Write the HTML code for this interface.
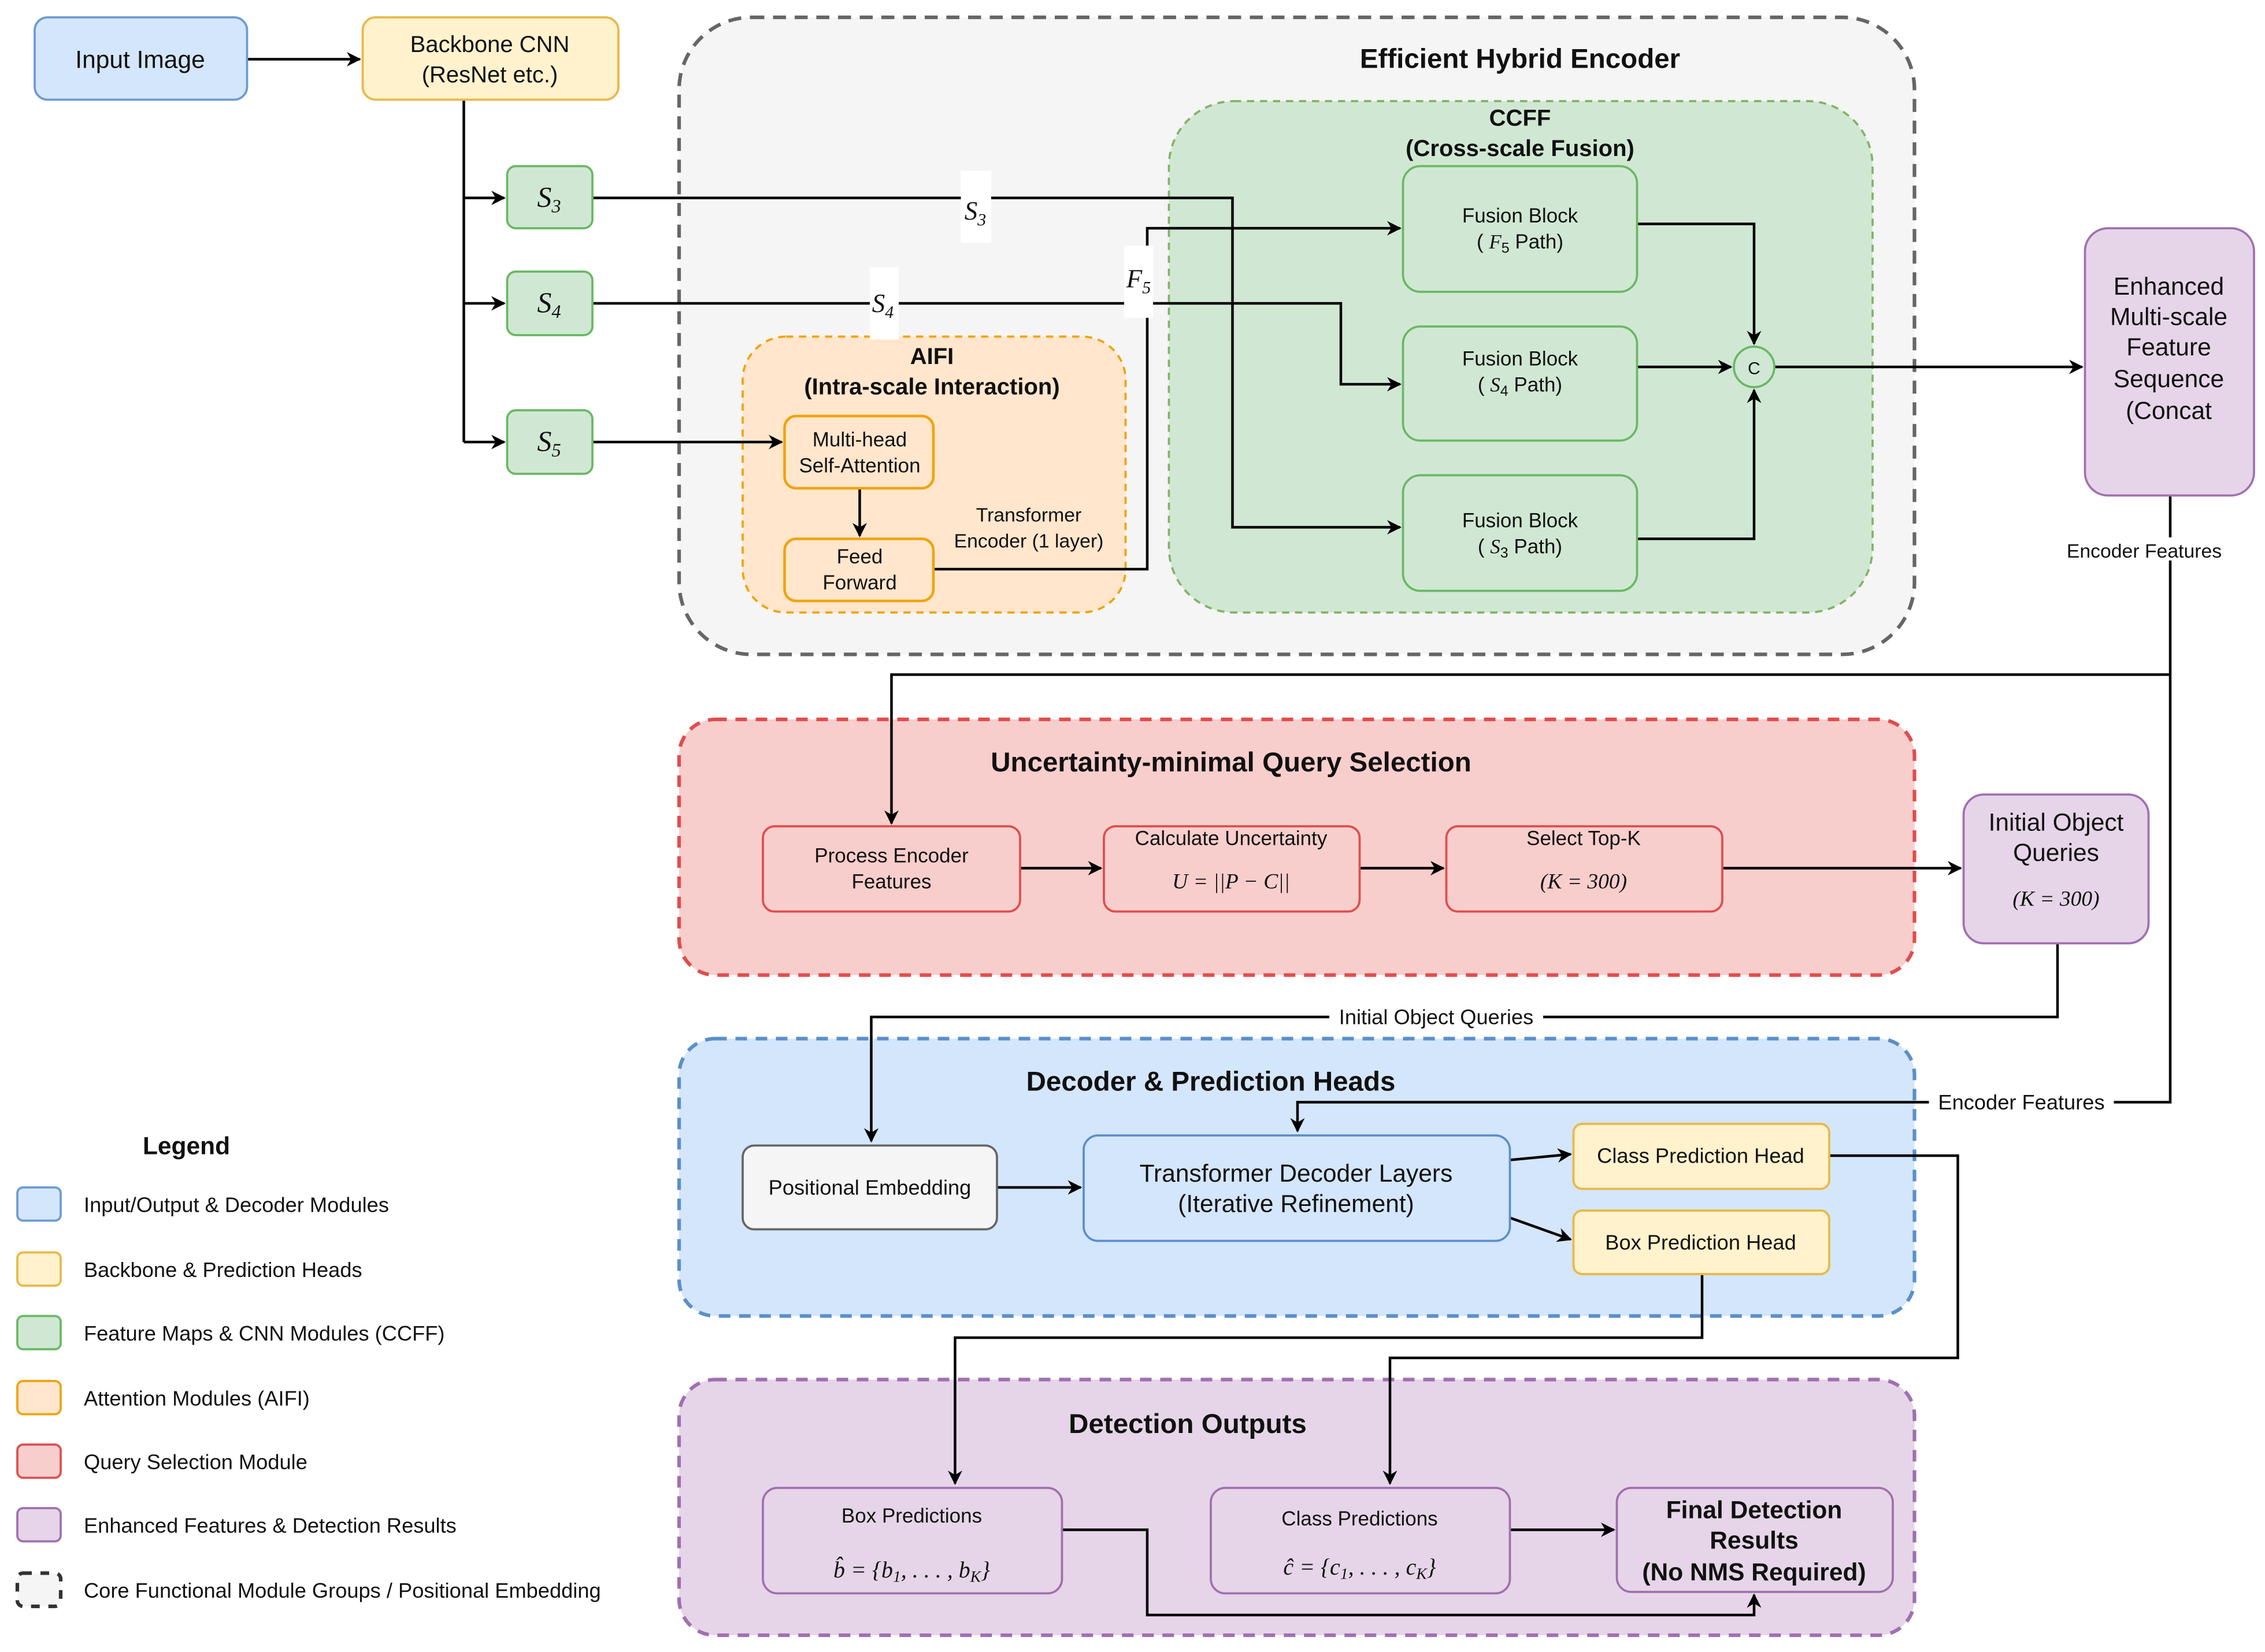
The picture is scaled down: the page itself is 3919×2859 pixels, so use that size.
<!DOCTYPE html>
<html><head><meta charset="utf-8"><style>
html,body{margin:0;padding:0;background:#fff;}
svg{display:block;}
text{font-family:"Liberation Sans",sans-serif;fill:#111;}
.m{font-family:"Liberation Serif",serif;font-style:italic;}
.b{font-weight:bold;}
</style></head><body>
<svg width="3919" height="2859" viewBox="0 0 1567.6 1143.6" xmlns="http://www.w3.org/2000/svg">
<defs>
<marker id="a" markerWidth="10" markerHeight="10" refX="9" refY="5" orient="auto" markerUnits="userSpaceOnUse"><path d="M0,0 L10,5 L0,10 L3,5 z" fill="#000"/></marker>
</defs>
<rect x="470" y="12" width="855" height="441" rx="50" fill="#f5f5f5" stroke="#666" stroke-width="2.5" stroke-dasharray="9,6"/>
<rect x="809" y="70" width="487" height="354" rx="45" fill="#d0e8d3" stroke="#82b366" stroke-width="1.5" stroke-dasharray="5,4"/>
<rect x="514" y="233" width="265" height="191" rx="30" fill="#ffe6cc" stroke="#f0a30a" stroke-width="1.5" stroke-dasharray="5,4"/>
<rect x="470" y="498" width="855" height="177" rx="25" fill="#f8cecc" stroke="#e04d4d" stroke-width="2.5" stroke-dasharray="8,6"/>
<rect x="470" y="719" width="855" height="192" rx="25" fill="#d4e6fb" stroke="#5b8fc9" stroke-width="2.5" stroke-dasharray="8,6"/>
<rect x="470" y="955" width="855" height="177" rx="25" fill="#e6d5e8" stroke="#a070b0" stroke-width="2.5" stroke-dasharray="8,6"/>
<text x="1052" y="47" font-size="19" class="b" text-anchor="middle">Efficient Hybrid Encoder</text>
<text x="1052" y="87" font-size="16" class="b" text-anchor="middle">CCFF</text>
<text x="1052" y="108" font-size="16" class="b" text-anchor="middle">(Cross-scale Fusion)</text>
<text x="645" y="252" font-size="16" class="b" text-anchor="middle">AIFI</text>
<text x="645" y="273" font-size="16" class="b" text-anchor="middle">(Intra-scale Interaction)</text>
<text x="852" y="534" font-size="19" class="b" text-anchor="middle">Uncertainty-minimal Query Selection</text>
<text x="838" y="755" font-size="19" class="b" text-anchor="middle">Decoder &amp; Prediction Heads</text>
<text x="822" y="992" font-size="19" class="b" text-anchor="middle">Detection Outputs</text>

<g fill="none" stroke="#000" stroke-width="1.8">
<path d="M171,41 H249" marker-end="url(#a)"/>
<path d="M321,69 V306"/>
<path d="M321,137 H349" marker-end="url(#a)"/>
<path d="M321,210 H349" marker-end="url(#a)"/>
<path d="M321,306 H349" marker-end="url(#a)"/>
<path d="M410,137 H853 V365 H969" marker-end="url(#a)"/>
<path d="M410,210 H928 V266 H969" marker-end="url(#a)"/>
<path d="M410,306 H541" marker-end="url(#a)"/>
<path d="M595,338 V371" marker-end="url(#a)"/>
<path d="M646,394 H794 V158 H969" marker-end="url(#a)"/>
<path d="M1133,155 H1214 V238" marker-end="url(#a)"/>
<path d="M1133,254 H1198" marker-end="url(#a)"/>
<path d="M1133,373 H1214 V270" marker-end="url(#a)"/>
<path d="M1228,254 H1441" marker-end="url(#a)"/>
<path d="M1502,343 V763 H898 V783" marker-end="url(#a)"/>
<path d="M1502,467 H617 V570" marker-end="url(#a)"/>
<path d="M706,601 H762" marker-end="url(#a)"/>
<path d="M941,601 H999" marker-end="url(#a)"/>
<path d="M1192,601 H1357" marker-end="url(#a)"/>
<path d="M1424,653 V704 H603 V790" marker-end="url(#a)"/>
<path d="M690,822 H748" marker-end="url(#a)"/>
<path d="M1045,803 L1087,799" marker-end="url(#a)"/>
<path d="M1045,843 L1087,858" marker-end="url(#a)"/>
<path d="M1266,800 H1355 V940 H962 V1027" marker-end="url(#a)"/>
<path d="M1178,882 V926 H661 V1027" marker-end="url(#a)"/>
<path d="M1045,1059 H1117" marker-end="url(#a)"/>
<path d="M735,1059 H794 V1118 H1214 V1104" marker-end="url(#a)"/>
</g>
<rect x="665" y="118" width="21" height="50" fill="#fff"/>
<text x="675" y="152" font-size="18" class="m" text-anchor="middle">S<tspan font-size="12" dy="4">3</tspan></text>
<rect x="602" y="185" width="20" height="50" fill="#fff"/>
<text x="611" y="216" font-size="18" class="m" text-anchor="middle">S<tspan font-size="12" dy="4">4</tspan></text>
<rect x="778" y="170" width="20" height="50" fill="#fff"/>
<text x="788" y="199" font-size="18" class="m" text-anchor="middle">F<tspan font-size="12" dy="4">5</tspan></text>
<rect x="1428" y="372" width="112" height="16" fill="#fff"/>
<text x="1484" y="386" font-size="13.5" text-anchor="middle">Encoder Features</text>
<rect x="920" y="696" width="148" height="16" fill="#fff"/>
<text x="994" y="709" font-size="14.5" text-anchor="middle">Initial Object Queries</text>
<rect x="1335" y="755" width="128" height="16" fill="#fff"/>
<text x="1399" y="768" font-size="14.5" text-anchor="middle">Encoder Features</text>
<text x="712" y="361" font-size="13.5" text-anchor="middle">Transformer</text>
<text x="712" y="379" font-size="13.5" text-anchor="middle">Encoder (1 layer)</text>

<rect x="24" y="12" width="147" height="57" rx="9" fill="#d4e6fb" stroke="#6c9bd2" stroke-width="1.5"/>
<text x="97" y="47" font-size="17" text-anchor="middle">Input Image</text>
<rect x="251" y="12" width="177" height="57" rx="9" fill="#fff2cc" stroke="#e8b84a" stroke-width="1.5"/>
<text x="339" y="36" font-size="16" text-anchor="middle">Backbone CNN</text>
<text x="339" y="57" font-size="16" text-anchor="middle">(ResNet etc.)</text>
<g fill="#d0e8d3" stroke="#6ab865" stroke-width="1.5">
<rect x="351" y="115" width="59" height="43" rx="6"/>
<rect x="351" y="188" width="59" height="44" rx="6"/>
<rect x="351" y="284" width="59" height="44" rx="6"/>
<rect x="971" y="115" width="162" height="87" rx="12"/>
<rect x="971" y="226" width="162" height="79" rx="12"/>
<rect x="971" y="329" width="162" height="80" rx="12"/>
<circle cx="1214" cy="254" r="14"/>
</g>
<text x="380" y="143" font-size="20" class="m" text-anchor="middle">S<tspan font-size="13" dy="4">3</tspan></text>
<text x="380" y="216" font-size="20" class="m" text-anchor="middle">S<tspan font-size="13" dy="4">4</tspan></text>
<text x="380" y="312" font-size="20" class="m" text-anchor="middle">S<tspan font-size="13" dy="4">5</tspan></text>
<text x="1052" y="154" font-size="14" text-anchor="middle">Fusion Block</text>
<text x="1052" y="172" font-size="14" text-anchor="middle">( <tspan class="m">F</tspan><tspan font-size="10" dy="3">5</tspan><tspan dy="-3"> Path)</tspan></text>
<text x="1052" y="253" font-size="14" text-anchor="middle">Fusion Block</text>
<text x="1052" y="271" font-size="14" text-anchor="middle">(  <tspan class="m">S</tspan><tspan font-size="10" dy="3">4</tspan><tspan dy="-3">  Path)</tspan></text>
<text x="1052" y="365" font-size="14" text-anchor="middle">Fusion Block</text>
<text x="1052" y="383" font-size="14" text-anchor="middle">(  <tspan class="m">S</tspan><tspan font-size="10" dy="3">3</tspan><tspan dy="-3">  Path)</tspan></text>
<text x="1214" y="259" font-size="12" text-anchor="middle">C</text>

<g fill="#ffe6cc" stroke="#f0a30a" stroke-width="1.8">
<rect x="543" y="288" width="103" height="50" rx="8"/>
<rect x="543" y="373" width="103" height="43" rx="8"/>
</g>
<text x="595" y="309" font-size="14" text-anchor="middle">Multi-head</text>
<text x="595" y="327" font-size="14" text-anchor="middle">Self-Attention</text>
<text x="595" y="390" font-size="14" text-anchor="middle">Feed</text>
<text x="595" y="408" font-size="14" text-anchor="middle">Forward</text>

<rect x="1443" y="158" width="117" height="185" rx="16" fill="#e6d5e8" stroke="#a070b0" stroke-width="1.5"/>
<g font-size="17" text-anchor="middle">
<text x="1501" y="204">Enhanced</text>
<text x="1501" y="225">Multi-scale</text>
<text x="1501" y="246">Feature</text>
<text x="1501" y="268">Sequence</text>
<text x="1501" y="290">(Concat</text>
</g>

<g fill="#f8cecc" stroke="#e04d4d" stroke-width="1.5">
<rect x="528" y="572" width="178" height="59" rx="8"/>
<rect x="764" y="572" width="177" height="59" rx="8"/>
<rect x="1001" y="572" width="191" height="59" rx="8"/>
</g>
<text x="617" y="597" font-size="14" text-anchor="middle">Process Encoder</text>
<text x="617" y="615" font-size="14" text-anchor="middle">Features</text>
<text x="852" y="585" font-size="14" text-anchor="middle">Calculate Uncertainty</text>
<text x="852" y="615" font-size="15" class="m" text-anchor="middle">U = ||P − C||</text>
<text x="1096" y="585" font-size="14" text-anchor="middle">Select Top-K</text>
<text x="1096" y="615" font-size="15" class="m" text-anchor="middle">(K = 300)</text>

<rect x="1359" y="550" width="128" height="103" rx="14" fill="#e6d5e8" stroke="#a070b0" stroke-width="1.5"/>
<text x="1423" y="575" font-size="17" text-anchor="middle">Initial Object</text>
<text x="1423" y="596" font-size="17" text-anchor="middle">Queries</text>
<text x="1423" y="627" font-size="15" class="m" text-anchor="middle">(K = 300)</text>

<rect x="514" y="793" width="176" height="58" rx="8" fill="#f5f5f5" stroke="#666" stroke-width="1.5"/>
<text x="602" y="827" font-size="14.5" text-anchor="middle">Positional Embedding</text>
<rect x="750" y="786" width="295" height="73" rx="10" fill="#d4e6fb" stroke="#5b8fc9" stroke-width="1.5"/>
<text x="897" y="818" font-size="17" text-anchor="middle">Transformer Decoder Layers</text>
<text x="897" y="839" font-size="17" text-anchor="middle">(Iterative Refinement)</text>
<g fill="#fff2cc" stroke="#e8b84a" stroke-width="1.5">
<rect x="1089" y="778" width="177" height="45" rx="6"/>
<rect x="1089" y="838" width="177" height="44" rx="6"/>
</g>
<text x="1177" y="805" font-size="14.5" text-anchor="middle">Class Prediction Head</text>
<text x="1177" y="865" font-size="14.5" text-anchor="middle">Box Prediction Head</text>

<g fill="#e6d5e8" stroke="#a070b0" stroke-width="1.5">
<rect x="528" y="1030" width="207" height="73" rx="10"/>
<rect x="838" y="1030" width="207" height="73" rx="10"/>
<rect x="1119" y="1030" width="191" height="72" rx="10"/>
</g>
<text x="631" y="1054" font-size="14" text-anchor="middle">Box Predictions</text>
<text x="631" y="1092" font-size="16" class="m" text-anchor="middle">b̂ = {b<tspan font-size="11" dy="3">1</tspan><tspan dy="-3">, . . . , b</tspan><tspan font-size="11" dy="3">K</tspan><tspan dy="-3">}</tspan></text>
<text x="941" y="1056" font-size="14" text-anchor="middle">Class Predictions</text>
<text x="941" y="1090" font-size="16" class="m" text-anchor="middle">ĉ = {c<tspan font-size="11" dy="3">1</tspan><tspan dy="-3">, . . . , c</tspan><tspan font-size="11" dy="3">K</tspan><tspan dy="-3">}</tspan></text>
<text x="1214" y="1051" font-size="17" class="b" text-anchor="middle">Final Detection</text>
<text x="1214" y="1072" font-size="17" class="b" text-anchor="middle">Results</text>
<text x="1214" y="1094" font-size="17" class="b" text-anchor="middle">(No NMS Required)</text>

<text x="129" y="799" font-size="17" class="b" text-anchor="middle">Legend</text>
<g stroke-width="1.5">
<rect x="12" y="822" width="30" height="23" rx="4" fill="#d4e6fb" stroke="#6c9bd2"/>
<rect x="12" y="867" width="30" height="23" rx="4" fill="#fff2cc" stroke="#e8b84a"/>
<rect x="12" y="911" width="30" height="23" rx="4" fill="#d0e8d3" stroke="#6ab865"/>
<rect x="12" y="956" width="30" height="23" rx="4" fill="#ffe6cc" stroke="#f0a30a"/>
<rect x="12" y="1000" width="30" height="23" rx="4" fill="#f8cecc" stroke="#e04d4d"/>
<rect x="12" y="1044" width="30" height="23" rx="4" fill="#e6d5e8" stroke="#a070b0"/>
<rect x="12" y="1089" width="30" height="23" rx="4" fill="#f5f5f5" stroke="#333" stroke-width="2.5" stroke-dasharray="6,6"/>
</g>
<g font-size="14.5">
<text x="58" y="839">Input/Output &amp; Decoder Modules</text>
<text x="58" y="884">Backbone &amp; Prediction Heads</text>
<text x="58" y="928">Feature Maps &amp; CNN Modules (CCFF)</text>
<text x="58" y="973">Attention Modules (AIFI)</text>
<text x="58" y="1017">Query Selection Module</text>
<text x="58" y="1061">Enhanced Features &amp; Detection Results</text>
<text x="58" y="1106">Core Functional Module Groups / Positional Embedding</text>
</g>
</svg>
</body></html>
